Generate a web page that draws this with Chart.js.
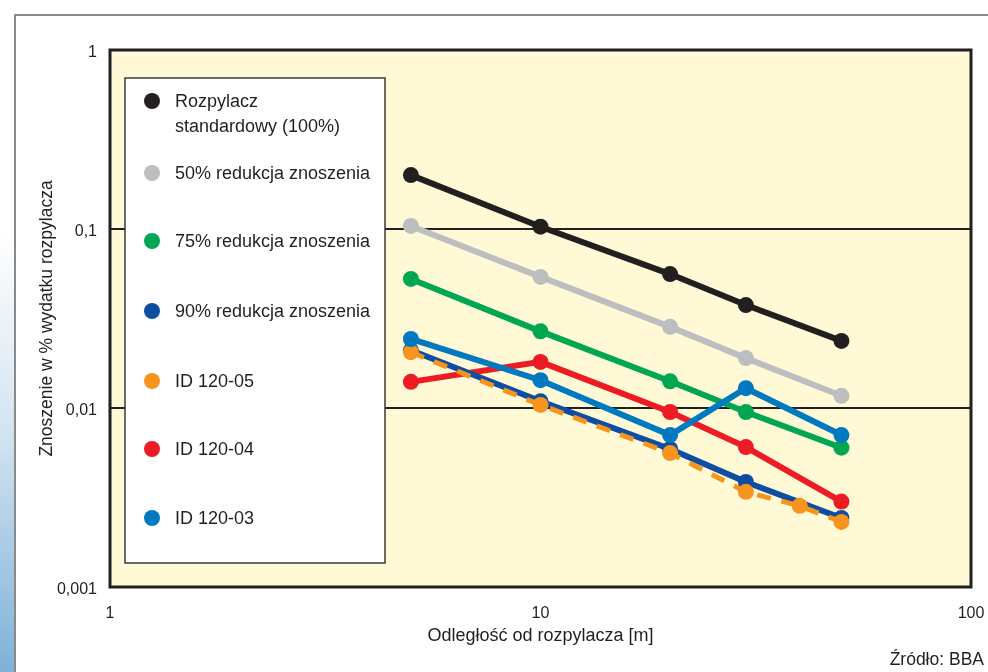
<!DOCTYPE html>
<html>
<head>
<meta charset="utf-8">
<script src="https://cdn.jsdelivr.net/npm/chart.js@4.4.1/dist/chart.umd.min.js"></script>
<style>
  html, body { margin: 0; padding: 0; background: #fff; }
  #page { position: relative; width: 988px; height: 672px; overflow: hidden; font-family: "Liberation Sans", Arial, sans-serif; }
  #strip { position: absolute; left: 0; top: 0; width: 15px; height: 672px;
           background: linear-gradient(to bottom, #ffffff 0px, #ffffff 230px, #d6e6f2 420px, #7fb2d8 672px); }
  #frameTop { position: absolute; left: 15px; top: 14px; width: 973px; height: 2px; background: #8a8a8a; }
  #frameLeft { position: absolute; left: 14px; top: 14px; width: 2px; height: 658px; background: #8a8a8a; }
  #source { position: absolute; right: 4px; top: 649px; font-size: 17.5px; color: #231f20; }
  canvas { position: absolute; left: 0; top: 0; }
</style>
</head>
<body>
<div id="page">
  <div id="strip"></div>
  <div id="frameTop"></div>
  <div id="frameLeft"></div>
  <canvas id="myChart" width="988" height="672"></canvas>
  <div id="source">Źródło: BBA</div>
</div>
<script>
// distances [m]
const distances = [5, 10, 20, 30, 50];
const orangeDistances = [5, 10, 20, 30, 40, 50];

// drift in % of sprayer output
const standardNozzle = [0.2, 0.103, 0.056, 0.0376, 0.0237];
const reduction50 = [0.104, 0.054, 0.0284, 0.019, 0.0117];
const reduction75 = [0.0526, 0.0268, 0.0141, 0.0095, 0.006];
const reduction90 = [0.021, 0.0109, 0.0059, 0.00386, 0.00243];
const id12005 = [0.0205, 0.0104, 0.0056, 0.0034, 0.00284, 0.00231];
const id12004 = [0.014, 0.0181, 0.0095, 0.00605, 0.003];
const id12003 = [0.0243, 0.0143, 0.00706, 0.0129, 0.00706];

const xTicks = [1, 10, 100];
const yTicks = [0.001, 0.01, 0.1, 1];

const legendLabels = [
    ["Rozpylacz", "standardowy (100%)"],
    ["50% redukcja znoszenia"],
    ["75% redukcja znoszenia"],
    ["90% redukcja znoszenia"],
    ["ID 120-05"],
    ["ID 120-04"],
    ["ID 120-03"]
];
const colors = ["#231f20", "#bcbec0", "#00a651", "#0d4ea2", "#f7941d", "#ed1c24", "#0079c1"];

function pts(xs, ys) {
    return xs.map((x, i) => ({ x: x, y: ys[i] }));
}

function series(label, xs, ys, color, order, dash) {
    return {
        label: label,
        data: pts(xs, ys),
        borderColor: color,
        backgroundColor: color,
        pointBackgroundColor: color,
        pointBorderWidth: 0,
        pointRadius: 8,
        borderWidth: dash ? 5 : 6,
        borderDash: dash || [],
        tension: 0,
        order: order
    };
}

const font = "'Liberation Sans', Arial, sans-serif";

// background, frame and legend box
const decorPlugin = {
    id: 'decor',
    beforeDraw(chart) {
        const a = chart.chartArea;
        const c = chart.ctx;
        c.save();
        c.fillStyle = "#fff9d6";
        c.fillRect(a.left, a.top, a.right - a.left, a.bottom - a.top);
        c.restore();
    },
    beforeDatasetsDraw(chart) {
        const a = chart.chartArea;
        const c = chart.ctx;
        c.save();
        // legend box
        const bx = a.left + 15, by = a.top + 28;
        const bw = 260, bh = a.bottom - 24 - by;
        c.fillStyle = "#ffffff";
        c.fillRect(bx, by, bw, bh);
        c.strokeStyle = "#3a3a3a";
        c.lineWidth = 1.5;
        c.strokeRect(bx, by, bw, bh);
        const rows = [101, 173, 241, 311, 381, 449, 518];
        c.font = "18px " + font;
        c.textBaseline = "middle";
        legendLabels.forEach((lines, i) => {
            const y = rows[i];
            c.beginPath();
            c.fillStyle = colors[i];
            c.arc(a.left + 42, y, 8, 0, Math.PI * 2);
            c.fill();
            c.fillStyle = "#231f20";
            lines.forEach((t, j) => c.fillText(t, a.left + 65, y + 1 + j * 25));
        });
        c.restore();
    },
    afterDraw(chart) {
        const a = chart.chartArea;
        const c = chart.ctx;
        c.save();
        c.strokeStyle = "#231f20";
        c.lineWidth = 3;
        c.strokeRect(a.left, a.top, a.right - a.left, a.bottom - a.top);
        c.restore();
    }
};

var ctx = document.getElementById("myChart").getContext("2d");
var myChart = new Chart(ctx, {
    type: 'line',
    data: {
        datasets: [
            series(legendLabels[0].join(" "), distances, standardNozzle, colors[0], 7),
            series(legendLabels[1][0], distances, reduction50, colors[1], 6),
            series(legendLabels[2][0], distances, reduction75, colors[2], 5),
            series(legendLabels[3][0], distances, reduction90, colors[3], 3),
            series(legendLabels[4][0], orangeDistances, id12005, colors[4], 2, [14, 11]),
            series(legendLabels[5][0], distances, id12004, colors[5], 4),
            series(legendLabels[6][0], distances, id12003, colors[6], 1)
        ]
    },
    options: {
        responsive: false,
        animation: false,
        layout: { padding: { left: 0, top: 50, right: 17, bottom: 0 } },
        plugins: {
            legend: { display: false },
            tooltip: { enabled: false }
        },
        scales: {
            x: {
                type: 'logarithmic',
                min: 1,
                max: 100,
                afterBuildTicks: s => { s.ticks = xTicks.map(v => ({ value: v })); },
                afterFit: s => { s.height = 85; s.paddingLeft = 0; s.paddingRight = 0; },
                border: { display: false },
                grid: { display: false },
                ticks: {
                    padding: 9,
                    color: "#231f20",
                    font: { family: font, size: 16 },
                    maxRotation: 0,
                    callback: v => String(v)
                },
                title: {
                    display: true,
                    text: "Odległość od rozpylacza [m]",
                    color: "#231f20",
                    font: { family: font, size: 18 },
                    padding: { bottom: 25 }
                }
            },
            y: {
                type: 'logarithmic',
                min: 0.001,
                max: 1,
                afterBuildTicks: s => { s.ticks = yTicks.map(v => ({ value: v })); },
                afterFit: s => { s.width = 110; s.paddingTop = 0; s.paddingBottom = 0; },
                border: { display: false },
                grid: { color: "#231f20", lineWidth: 2, drawTicks: false },
                ticks: {
                    padding: 13,
                    labelOffset: 3,
                    color: "#231f20",
                    font: { family: font, size: 16 },
                    callback: v => String(v).replace(".", ",")
                },
                title: {
                    display: true,
                    text: "Znoszenie w % wydatku rozpylacza",
                    color: "#231f20",
                    font: { family: font, size: 17.5 },
                    padding: { top: 37 }
                }
            }
        }
    },
    plugins: [decorPlugin]
});
</script>
</body>
</html>
